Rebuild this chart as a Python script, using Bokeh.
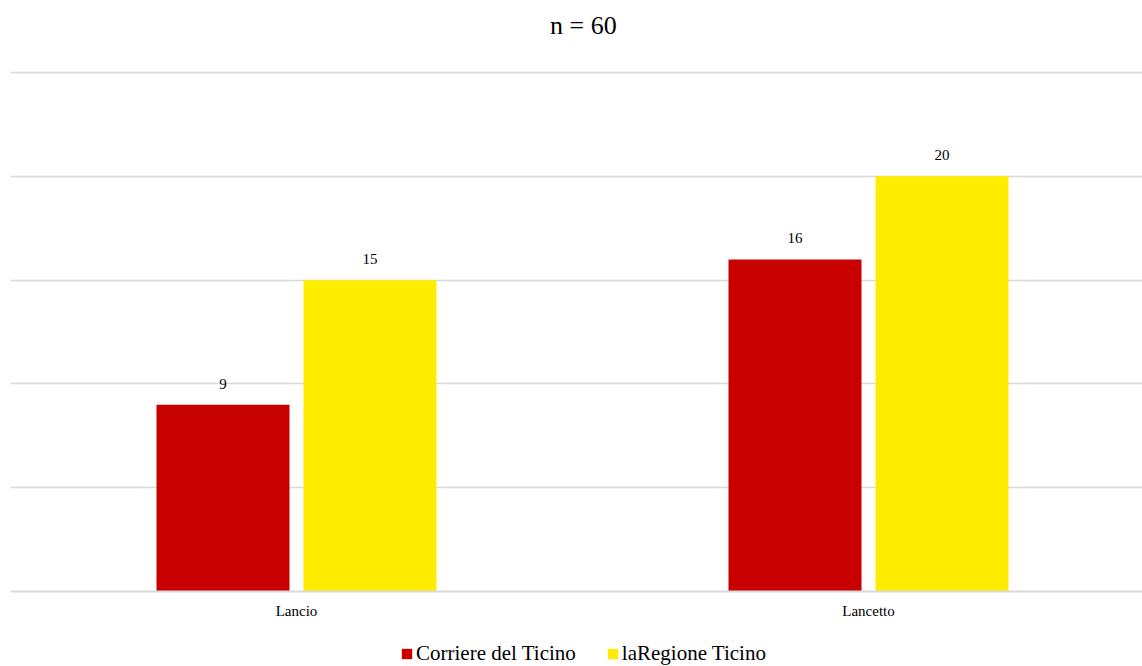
from bokeh.plotting import figure
from bokeh.layouts import column
from bokeh.models import Range1d, ColumnDataSource, LabelSet, Legend, LegendItem, FixedTicker, Label
from bokeh.embed import file_html
from bokeh.resources import INLINE

title_text = "n = 60"
categories = ["Lancio", "Lancetto"]
series_names = ["Corriere del Ticino", "laRegione Ticino"]
corriere = [9, 16]
laregione = [15, 20]
colors = ["#C80000", "#FFED00"]

FONT = "Liberation Serif"
W = 1142

# header (title)
p0 = figure(width=W, height=60, output_backend="svg", toolbar_location=None,
            x_axis_location=None, y_axis_location=None, min_border=0,
            x_range=Range1d(0, W), y_range=Range1d(0, 60))
p0.outline_line_color = None
p0.xgrid.visible = False
p0.ygrid.visible = False
p0.add_layout(Label(x=578, y=35, text=title_text, text_align="center", text_baseline="middle",
                    text_font=FONT, text_font_size="26px", text_color="#000000"))

# main chart
p = figure(width=W, height=576, output_backend="svg", toolbar_location=None,
           x_range=Range1d(0, 1132 / 572), y_range=Range1d(0, 25.1),
           min_border_left=10, min_border_right=0, min_border_top=10, min_border_bottom=45)
p.outline_line_color = None
p.background_fill_color = "white"

xc = [i + 0.5 for i in range(len(categories))]
off = 73.5 / 572
w = 133 / 572
for vals, col, o in zip([corriere, laregione], colors, [-off, off]):
    src = ColumnDataSource(dict(x=[x + o for x in xc], top=vals, lbl=[str(v) for v in vals]))
    p.vbar(x="x", top="top", bottom=0, width=w, source=src, fill_color=col, line_color=None)
    p.add_layout(LabelSet(x="x", y="top", text="lbl", source=src, text_align="center",
                          text_baseline="middle", y_offset=21, text_font=FONT,
                          text_font_size="15px", text_color="#000000"))

p.yaxis.visible = False
p.ygrid.ticker = FixedTicker(ticks=[0, 5, 10, 15, 20, 25])
p.ygrid.grid_line_color = "#d9d9d9"
p.ygrid.grid_line_width = 1.5
p.xgrid.visible = False

p.xaxis.ticker = FixedTicker(ticks=xc)
p.xaxis.major_label_overrides = {x: c for x, c in zip(xc, categories)}
p.xaxis.axis_line_color = "#d9d9d9"
p.xaxis.axis_line_width = 2
p.xaxis.major_tick_line_color = None
p.xaxis.minor_tick_line_color = None
p.xaxis.major_label_text_font = FONT
p.xaxis.major_label_text_font_size = "15px"
p.xaxis.major_label_text_color = "#000000"
p.xaxis.major_label_standoff = 5

# legend strip
p2 = figure(width=W, height=30, output_backend="svg", toolbar_location=None,
            x_axis_location=None, y_axis_location=None, min_border=0,
            x_range=Range1d(0, 1), y_range=Range1d(0, 1))
p2.outline_line_color = None
p2.xgrid.visible = False
p2.ygrid.visible = False
leg_r = []
for col in colors:
    leg_r.append(p2.vbar(x=[5], top=[1], width=0.1, fill_color=col, line_color=None))

legend = Legend(items=[LegendItem(label=n, renderers=[r]) for n, r in zip(series_names, leg_r)],
                orientation="horizontal", location=(390, 0), border_line_color=None,
                background_fill_alpha=0,
                label_text_font=FONT, label_text_font_size="21px", label_text_color="#000000",
                glyph_width=13, glyph_height=13, spacing=30, label_standoff=3,
                padding=2, margin=0)
p2.add_layout(legend)

open("out.html", "w").write(file_html(column(p0, p, p2, spacing=0), INLINE))
